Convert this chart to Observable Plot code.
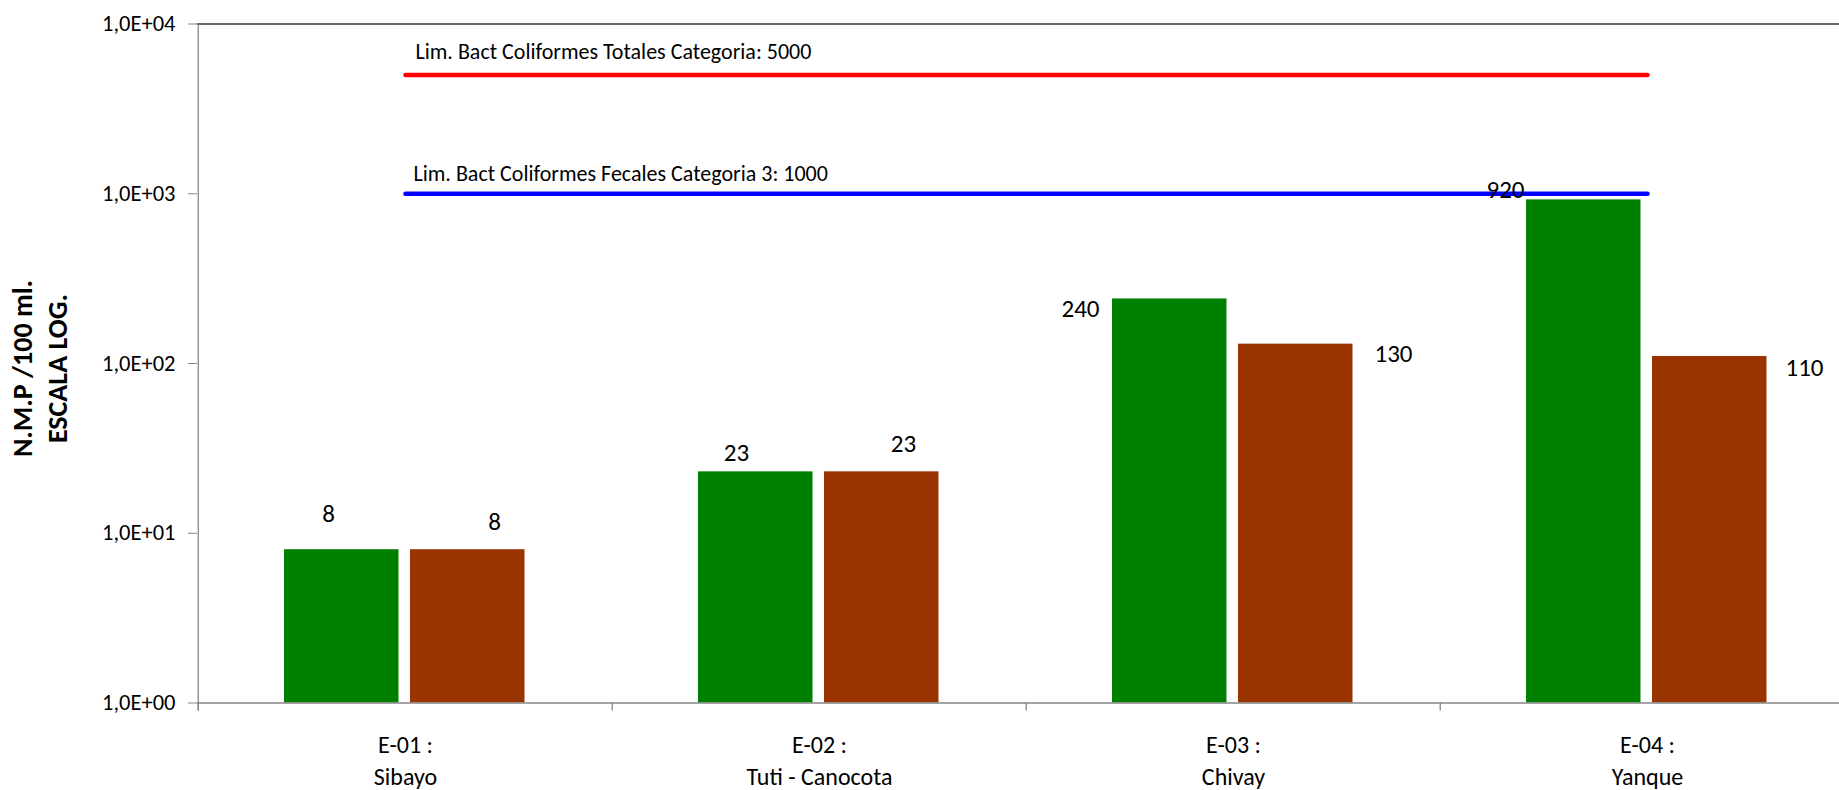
<!DOCTYPE html>
<html><head><meta charset="utf-8">
<script src="https://cdn.jsdelivr.net/npm/d3@7"></script>
<script src="https://cdn.jsdelivr.net/npm/@observablehq/plot@0.6"></script>
<style>
html,body{margin:0;padding:0;background:#fff;overflow:hidden;}
#chart{width:1839px;height:790px;overflow:hidden;position:relative;}
#chart svg{max-width:none !important;display:block;}
</style></head><body><div id="chart"></div>
<script>
// ---- data ----
const stationCodes = ["E-01", "E-02", "E-03", "E-04"];
const stationNames = ["Sibayo", "Tuti - Canocota", "Chivay", "Yanque"];
const coliformesTotales = [8, 23, 240, 920];
const coliformesFecales = [8, 23, 130, 110];
const limTotales = [5000, 5000, 5000, 5000];
const limFecales = [1000, 1000, 1000, 1000];
const limTotalesLabel = "Lim. Bact Coliformes Totales Categoria: 5000";
const limFecalesLabel = "Lim. Bact Coliformes Fecales Categoria 3: 1000";
const yTicks = [1, 10, 100, 1000, 10000];
const yTickLabels = ["1,0E+00", "1,0E+01", "1,0E+02", "1,0E+03", "1,0E+04"];
const yTitle = "N.M.P /100 ml.\nESCALA LOG.";

// ---- tables ----
const rows = (vals) => stationCodes.map((s, i) => ({station: s, value: vals[i]}));
const totalesData = rows(coliformesTotales);
const fecalesData = rows(coliformesFecales);
const limTotalesData = rows(limTotales);
const limFecalesData = rows(limFecales);

// ---- layout / style ----
const W = 1858, H = 790, ML = 197, MR = 3, MT = 23.5, MB = 87.5;
const bw = (W - ML - MR) / stationCodes.length;
const plotH = H - MT - MB;
const axisGray = "#868686";
const font = "Carlito, Lato, sans-serif";
// label offsets (styling) relative to band centre / bar top
const offTot = [[-77, -36], [-83, -19], [-153, 10], [-142, -10]];
const offFec = [[89, -28], [84, -28], [160, 10], [157, 12]];

const labelMarks = [];
stationCodes.forEach((s, i) => {
  labelMarks.push(Plot.text([totalesData[i]], {x: "station", y: "value", text: d => String(d.value),
    dx: offTot[i][0], dy: offTot[i][1], fontSize: 25, fill: "#000"}));
  labelMarks.push(Plot.text([fecalesData[i]], {x: "station", y: "value", text: d => String(d.value),
    dx: offFec[i][0], dy: offFec[i][1], fontSize: 25, fill: "#000"}));
});

const plot = Plot.plot({
  width: W, height: H,
  marginLeft: ML, marginRight: MR, marginTop: MT, marginBottom: MB,
  style: {fontFamily: font, fontSize: "22px", color: "#000", background: "#fff", maxWidth: "none"},
  x: {type: "band", domain: stationCodes, padding: 0, axis: null, label: null},
  y: {type: "log", domain: [1, 10000], axis: null, label: null},
  marks: [
    Plot.barY(totalesData, {x: "station", y1: 1, y2: "value", fill: "#008000", insetLeft: 86, insetRight: 213.5}),
    Plot.barY(fecalesData, {x: "station", y1: 1, y2: "value", fill: "#993300", insetLeft: 212, insetRight: 87.5}),
    Plot.ruleY([10000], {stroke: "#333", strokeWidth: 1.5}),
    Plot.ruleY([1], {stroke: axisGray, strokeWidth: 1.3}),
    Plot.ruleX([stationCodes[0]], {x: d => d, dx: -bw / 2, insetBottom: -8, stroke: axisGray, strokeWidth: 1.3}),
    Plot.ruleX(stationCodes, {x: d => d, dx: -bw / 2, insetTop: plotH, insetBottom: -8, stroke: axisGray, strokeWidth: 1.3}),
    Plot.axisY({ticks: yTicks, tickFormat: d => yTickLabels[yTicks.indexOf(d)], tickSize: 9, tickPadding: 13,
      stroke: axisGray, fontSize: 22.5, fill: "#000", label: null}),
    Plot.axisX({tickSize: 0, tickPadding: 27.5, lineHeight: 1.32, fontSize: 24, fill: "#000", label: null,
      tickFormat: (d) => `${d} :\n${stationNames[stationCodes.indexOf(d)]}`}),
    Plot.line(limTotalesData, {x: "station", y: "value", stroke: "#FF0000", strokeWidth: 4.5, strokeLinecap: "round"}),
    Plot.line(limFecalesData, {x: "station", y: "value", stroke: "#0000FF", strokeWidth: 4.5, strokeLinecap: "round"}),
    Plot.text([limTotalesData[0]], {x: "station", y: "value", text: () => limTotalesLabel, textAnchor: "start",
      dx: 10, dy: -23, fontSize: 22, fill: "#000"}),
    Plot.text([limFecalesData[0]], {x: "station", y: "value", text: () => limFecalesLabel, textAnchor: "start",
      dx: 8, dy: -20, fontSize: 22, fill: "#000"}),
    ...labelMarks,
    Plot.text([yTitle], {frameAnchor: "left", text: d => d, rotate: -90, dx: -159, dy: 5,
      textAnchor: "middle", lineHeight: 1.25, fontSize: 28, fontWeight: "bold", fill: "#000"})
  ]
});
document.getElementById("chart").append(plot);
</script></body></html>
